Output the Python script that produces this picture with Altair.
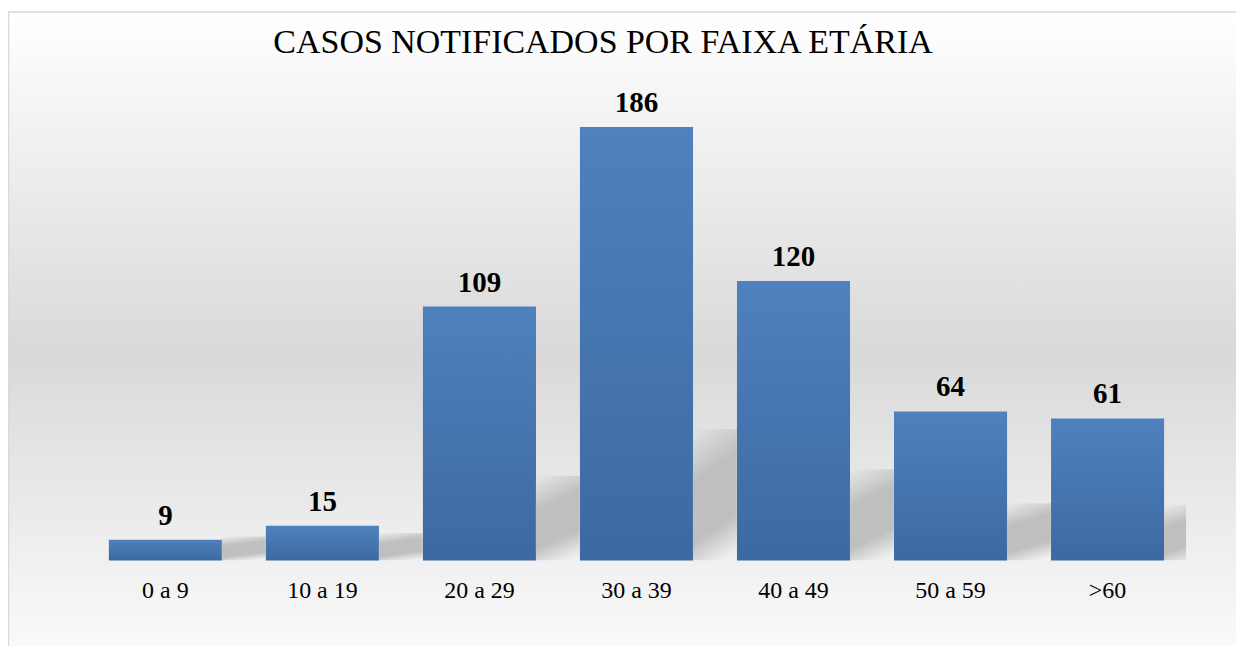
import altair as alt
import pandas as pd

categories = ["0 a 9", "10 a 19", "20 a 29", "30 a 39", "40 a 49", "50 a 59", ">60"]
values = [9, 15, 109, 186, 120, 64, 61]
title_text = "CASOS NOTIFICADOS POR FAIXA ETÁRIA"
df = pd.DataFrame({"faixa": categories, "casos": values})

W = 1101
H = 467
SERIF = "Liberation Serif"

bg = alt.Chart(alt.Data(values=[{}])).mark_rect(
    fill=alt.LinearGradient(
        gradient="linear", x1=0, x2=0, y1=0, y2=1,
        stops=[
            alt.GradientStop(offset=0, color="#ffffff"),
            alt.GradientStop(offset=0.5, color="#d9d9d9"),
            alt.GradientStop(offset=1, color="#ffffff"),
        ],
    ),
    stroke="#d9d9d9",
    strokeWidth=1.5,
).encode(x=alt.value(-78.5), x2=alt.value(1200), y=alt.value(-82.5), y2=alt.value(600))

title = alt.Chart(alt.Data(values=[{}])).mark_text(
    font=SERIF, fontSize=34, fontWeight="normal", color="#000000",
    baseline="alphabetic", align="center",
).encode(x=alt.value(517), y=alt.value(-41), text=alt.value(title_text))

x_scale = alt.Scale(paddingInner=0.28, paddingOuter=0.14)
y_scale = alt.Scale(domain=[0, 200])

x_enc = alt.X(
    "faixa:N",
    sort=categories,
    scale=x_scale,
    axis=alt.Axis(title=None, labelAngle=0, ticks=False, domain=False,
                  labelFont=SERIF, labelFontSize=24, labelColor="#000000",
                  labelPadding=18, zindex=2, bandPosition=0.5),
)
y_enc = alt.Y("casos:Q", scale=y_scale, axis=None)

bars = alt.Chart(df).mark_bar(
    color=alt.LinearGradient(
        gradient="linear", x1=0, x2=0, y1=0, y2=1,
        stops=[
            alt.GradientStop(offset=0, color="#4f81be"),
            alt.GradientStop(offset=1, color="#3c69a1"),
        ],
    )
).encode(x=x_enc, y=y_enc)

# soft perspective shadow behind each bar (decorative)
shadow = alt.Chart(df).transform_calculate(
    sh="datum.casos * 0.26 + 8"
).mark_bar(
    width=44, xOffset=78.5, clip=True,
    fill=alt.LinearGradient(
        gradient="linear", x1=0, y1=0, x2=0.25, y2=1.1,
        stops=[
            alt.GradientStop(offset=0, color="rgba(189,189,189,0)"),
            alt.GradientStop(offset=0.35, color="rgba(189,189,189,0.95)"),
            alt.GradientStop(offset=0.75, color="rgba(189,189,189,0.95)"),
            alt.GradientStop(offset=1.0, color="rgba(189,189,189,0)"),
        ],
    ),
).encode(x=x_enc, y=alt.Y("sh:Q", scale=y_scale, axis=None))

labels = alt.Chart(df).mark_text(
    font=SERIF, fontSize=29, fontWeight="bold", color="#000000",
    baseline="alphabetic", dy=-15,
).encode(x=alt.X("faixa:N", sort=categories), y="casos:Q", text="casos:Q")

chart = alt.layer(bg, title, bars, shadow, labels).properties(
    width=W,
    height=H,
    autosize=alt.AutoSizeParams(type="none"),
    padding={"left": 79, "top": 86, "right": 50, "bottom": 85},
).configure_view(stroke=None)

chart.save("out.html", embed_options={"renderer": "svg", "actions": False})
